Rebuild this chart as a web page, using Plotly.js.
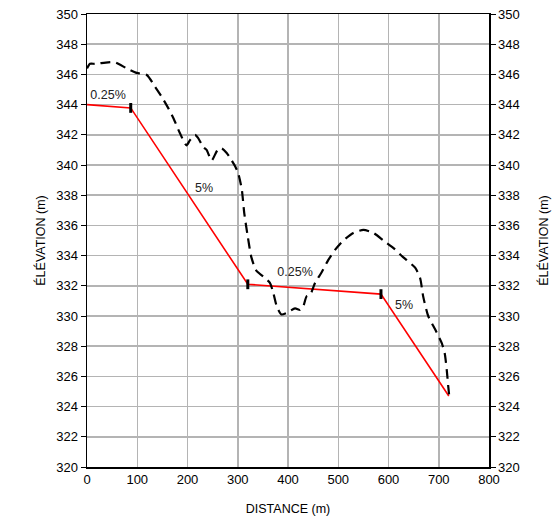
<!DOCTYPE html>
<html><head><meta charset="utf-8">
<script src="https://cdn.plot.ly/plotly-3.0.1.min.js"></script>
<style>body{margin:0;background:#fff}#c{width:553px;height:525px}</style>
</head><body><div id="c"></div>
<script>
// Terrain profile (dashed)
const terrainX = [0,6,16,42,56,79,99,119,135,149,162,172,185,198,205,215,221,231,238,248,260,268,278,288,295,301,308,313,320,327,337,351,364,371,378,387,397,414,424,430,437,444,454,467,480,494,510,530,550,570,590,610,629,653,663,669,679,693,706,712,716,719,721];
const terrainY = [346.4,346.7,346.7,346.8,346.8,346.4,346.1,345.96,345.2,344.5,343.75,343.1,342.1,341.3,341.65,342.0,341.8,341.2,341.0,340.3,341.0,341.1,340.8,340.3,339.9,339.45,338.4,336.8,335.25,333.9,333.0,332.6,332.2,331.5,330.6,330.1,330.2,330.5,330.4,330.6,331.3,331.4,332.2,332.9,333.7,334.4,335.0,335.5,335.7,335.5,335.0,334.5,333.9,333.2,332.5,331.3,330.0,329.1,328.2,327.5,326.4,325.3,324.65];
// Design grade line (red)
const gradeX = [0,87,320,585,720];
const gradeY = [344.0,343.78,332.1,331.45,324.7];
// Breakpoint markers
const breakX = [87,320,585];
const breakY = [343.78,332.1,331.45];
// Slope labels
const labelX = [42,233,414,631];
const labelY = [344.6,338.4,332.85,330.7];
const labelText = ['0.25%','5%','0.25%','5%'];

const xTicks = [0,100,200,300,400,500,600,700,800];
const yTicks = [320,322,324,326,328,330,332,334,336,338,340,342,344,346,348,350];

const font = {family:'Liberation Sans, Arial, sans-serif', color:'#000000'};

const traces = [
  {x:gradeX, y:gradeY, mode:'lines', line:{color:'#ff0000', width:1.6}, hoverinfo:'skip'},
  {x:terrainX, y:terrainY, mode:'lines', line:{color:'#000', width:2.2, dash:'10px,6px', shape:'spline', smoothing:0.6}, hoverinfo:'skip'},
  {x:breakX, y:breakY, mode:'markers', marker:{symbol:'line-ns-open', size:7, color:'#000', line:{color:'#000', width:3}}, hoverinfo:'skip'},
  {x:labelX, y:labelY, mode:'text', text:labelText, textfont:{family:font.family, color:'#222', size:12.5}, hoverinfo:'skip'},
  {x:gradeX, y:gradeY, yaxis:'y2', mode:'lines', line:{width:0, color:'rgba(0,0,0,0)'}, hoverinfo:'skip'}
];

const yBase = {
  range:[320,350], tickvals:yTicks, ticktext:yTicks.map(String),
  ticks:'outside', ticklen:5, tickcolor:'#000', tickwidth:1,
  showline:true, linecolor:'#000', linewidth:1.5,
  tickfont:{family:font.family, color:'#000', size:13}, zeroline:false, fixedrange:true
};

const layout = {
  width:553, height:525,
  margin:{l:87, r:64, t:14, b:58},
  paper_bgcolor:'#fff', plot_bgcolor:'#fff',
  showlegend:false,
  font:{family:font.family, color:'#000'},
  xaxis:{
    range:[0,800], tickvals:xTicks, ticktext:xTicks.map(String),
    showgrid:true, gridcolor:'#b4b4b4', gridwidth:1.5,
    showline:true, linecolor:'#000', linewidth:1.5, mirror:true,
    ticks:'', tickfont:{family:font.family, color:'#000', size:13}, zeroline:false,
    title:{text:'DISTANCE (m)', font:{family:font.family, color:'#000', size:12.5}, standoff:18}
  },
  yaxis:Object.assign({}, yBase, {
    showgrid:true, gridcolor:'#b4b4b4', gridwidth:1.5,
    title:{text:'ÉLÉVATION (m)', font:{family:font.family, color:'#000', size:12.5}, standoff:8}
  }),
  yaxis2:Object.assign({}, yBase, {
    overlaying:'y', side:'right', showgrid:false,
    title:{text:'ÉLÉVATION (m)', font:{family:font.family, color:'#000', size:12.5}, standoff:20}
  })
};

Plotly.newPlot('c', traces, layout, {staticPlot:true});
</script></body></html>
